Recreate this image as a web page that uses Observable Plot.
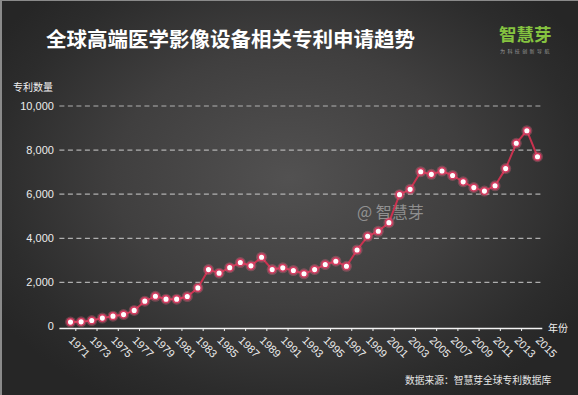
<!DOCTYPE html>
<html>
<head>
<meta charset="utf-8">
<script src="https://cdn.jsdelivr.net/npm/d3@7"></script>
<script src="https://cdn.jsdelivr.net/npm/@observablehq/plot@0.6"></script>
<style>
  html, body { margin: 0; padding: 0; background: #2a2a2a; }
  #wrap {
    position: relative; width: 578px; height: 395px; overflow: hidden;
    background: radial-gradient(ellipse 60% 65% at 50% 45%, #525151 0%, #403f3f 50%, #2c2c2c 85%, #262626 100%);
    box-shadow: inset 2px 1px 0 #8a8a8a;
    font-family: "Noto Sans CJK SC", "Noto Sans", sans-serif;
  }
  .abs { position: absolute; white-space: nowrap; line-height: 1; }
  #title { left: 46px; top: 28px; font-size: 20.5px; font-weight: 700; color: #ffffff; }
  #logo { left: 499px; top: 25px; font-size: 17.5px; font-weight: 700; color: #86c440; }
  #tag { left: 500px; top: 48px; font-size: 5px; color: #9a9a9a; letter-spacing: 2.4px; }
  #ylab { left: 13px; top: 82px; font-size: 10px; color: #f0f0f0; }
  #xlab { left: 548px; top: 323px; font-size: 10px; color: #f0f0f0; }
  #src { left: 405px; top: 376px; font-size: 9.75px; color: #e6e6e6; }
  #wm { left: 357px; top: 203px; font-size: 16px; color: rgba(210,210,210,0.55); }
  #chart { position: absolute; left: 0; top: 0; }
</style>
</head>
<body>
<div id="wrap">
  <div class="abs" id="wm">@ 智慧芽</div>
  <div id="chart"></div>
  <div class="abs" id="title">全球高端医学影像设备相关专利申请趋势</div>
  <div class="abs" id="logo">智慧芽</div>
  <div class="abs" id="tag">为科技创新导航</div>
  <div class="abs" id="ylab">专利数量</div>
  <div class="abs" id="xlab">年份</div>
  <div class="abs" id="src">数据来源：智慧芽全球专利数据库</div>
</div>
<script>
const years = [1971,1972,1973,1974,1975,1976,1977,1978,1979,1980,
               1981,1982,1983,1984,1985,1986,1987,1988,1989,1990,
               1991,1992,1993,1994,1995,1996,1997,1998,1999,2000,
               2001,2002,2003,2004,2005,2006,2007,2008,2009,2010,
               2011,2012,2013,2014,2015];
const counts = [200,210,270,380,470,540,730,1150,1370,1240,
                1240,1360,1750,2580,2420,2670,2900,2750,3140,2580,
                2660,2540,2390,2580,2810,2960,2730,3470,4090,4320,
                4710,5980,6220,7020,6900,7050,6850,6560,6300,6140,
                6380,7160,8310,8880,7700];
const yTicks = [0, 2000, 4000, 6000, 8000, 10000];
const gridValues = [2000, 4000, 6000, 8000, 10000];
const labelYears = years.filter(y => (y - 1971) % 2 === 0);

const data = years.map((year, i) => ({year, count: counts[i]}));
const tickBounds = labelYears.slice(0, -1).map(y => y + 0.5);

const chart = Plot.plot({
  width: 578,
  height: 395,
  marginLeft: 59.4,
  marginRight: 35.7,
  marginTop: 105.5,
  marginBottom: 69,
  x: {domain: [1970, 2015.5]},
  y: {domain: [0, 10000]},
  style: {background: "transparent", color: "#ececec", fontFamily: "'Liberation Sans', Arial, sans-serif", fontSize: "11px", overflow: "visible"},
  marks: [
    Plot.ruleY(gridValues, {stroke: "#c4c4c4", strokeWidth: 1.2, strokeDasharray: "5,3.5", strokeOpacity: 0.85}),
    Plot.axisY({ticks: yTicks, tickSize: 0, tickPadding: 6, tickFormat: d3.format(","), label: null, fill: "#ececec"}),
    Plot.ruleY([0], {stroke: "#f2f2f2", strokeWidth: 1.6, dy: 2}),
    Plot.axisX({ticks: tickBounds, tickSize: 3, tickFormat: () => "", label: null, stroke: "#f2f2f2", dy: 2}),
    Plot.axisX({ticks: labelYears, tickSize: 0, tickPadding: 12, tickRotate: 45, tickFormat: d => String(d), label: null, fill: "#ececec"}),
    Plot.line(data, {x: "year", y: "count", stroke: "#c9324f", strokeWidth: 2}),
    Plot.dot(data, {x: "year", y: "count", r: 5.5, fill: "#ff6d8c", fillOpacity: 0.3}),
    Plot.dot(data, {x: "year", y: "count", r: 3.3, fill: "#ffffff", stroke: "#d63d62", strokeWidth: 1.5})
  ]
});
document.getElementById("chart").appendChild(chart);
</script>
</body>
</html>
